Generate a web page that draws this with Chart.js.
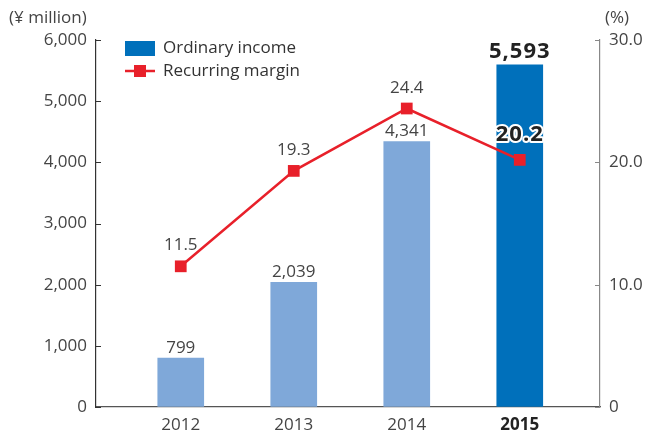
<!DOCTYPE html>
<html>
<head>
<meta charset="utf-8">
<script src="https://cdn.jsdelivr.net/npm/chart.js@4"></script>
<style>
html,body{margin:0;padding:0;background:#fff;}
#wrap{width:645px;height:431px;position:relative;}
</style>
</head>
<body>
<div id="wrap"><canvas id="c" width="645" height="431"></canvas></div>
<script>
const years = ['2012', '2013', '2014', '2015'];
const ordinaryIncome = [799, 2039, 4341, 5593];
const recurringMargin = [11.5, 19.3, 24.4, 20.2];
const incomeTicks = [0, 1000, 2000, 3000, 4000, 5000, 6000];
const marginTicks = [0, 10, 20, 30];
const seriesNames = ['Ordinary income', 'Recurring margin'];
const leftUnit = '(¥ million)';
const rightUnit = '(%)';

const FONT = '"Open Sans", "Noto Sans", sans-serif';
const LIGHT = '#7fa8d9';
const DARK = '#0070bb';
const RED = '#e8202a';
const TXT = '#444';

const xs = years.map((_, i) => i + 1);

const extras = {
  id: 'extras',
  afterDatasetsDraw(chart) {
    const ctx = chart.ctx;
    const y = chart.scales.y, y2 = chart.scales.y2, x = chart.scales.x;
    ctx.save();
    // inward tick marks
    ctx.lineWidth = 1;
    ctx.strokeStyle = '#333';
    incomeTicks.forEach(v => {
      const py = Math.round(y.getPixelForValue(v)) + 0.5;
      ctx.beginPath(); ctx.moveTo(x.left, py); ctx.lineTo(x.left + 5, py); ctx.stroke();
    });
    ctx.strokeStyle = '#888';
    marginTicks.forEach(v => {
      const py = Math.round(y2.getPixelForValue(v)) + 0.5;
      ctx.beginPath(); ctx.moveTo(x.right, py); ctx.lineTo(x.right - 5, py); ctx.stroke();
    });
    // bar value labels
    ctx.textAlign = 'center';
    ctx.textBaseline = 'alphabetic';
    const barMeta = chart.getDatasetMeta(0);
    barMeta.data.forEach((bar, i) => {
      const last = i === ordinaryIncome.length - 1;
      ctx.font = (last ? 'bold 22px ' : '17px ') + FONT;
      ctx.letterSpacing = last ? '1px' : '0px';
      ctx.fillStyle = last ? '#222' : TXT;
      ctx.fillText(ordinaryIncome[i].toLocaleString('en-US'), bar.x, bar.y - (last ? 7 : 5));
    });
    // line value labels
    const lineMeta = chart.getDatasetMeta(1);
    lineMeta.data.forEach((pt, i) => {
      const last = i === recurringMargin.length - 1;
      const s = recurringMargin[i].toFixed(1);
      if (last) {
        ctx.font = 'bold 22px ' + FONT;
        ctx.letterSpacing = '1px';
        ctx.lineWidth = 4;
        ctx.strokeStyle = '#fff';
        ctx.lineJoin = 'round';
        ctx.strokeText(s, pt.x, pt.y - 19);
        ctx.fillStyle = '#222';
        ctx.fillText(s, pt.x, pt.y - 19);
      } else {
        ctx.font = '17px ' + FONT;
        ctx.letterSpacing = '0px';
        ctx.fillStyle = TXT;
        ctx.fillText(s, pt.x, pt.y - 16);
      }
    });
    ctx.letterSpacing = '0px';
    // unit labels
    ctx.font = '17px ' + FONT;
    ctx.fillStyle = TXT;
    ctx.textBaseline = 'middle';
    ctx.textAlign = 'left';
    ctx.fillText(leftUnit, 9, 18);
    ctx.fillText(rightUnit, 605, 18);
    // legend
    const lx = x.left + 29, ly = y.top + 8;
    ctx.fillStyle = DARK;
    ctx.fillRect(lx, ly - 7, 30, 15);
    ctx.strokeStyle = RED; ctx.lineWidth = 2.5;
    ctx.beginPath(); ctx.moveTo(lx, ly + 23); ctx.lineTo(lx + 30, ly + 23); ctx.stroke();
    ctx.fillStyle = RED;
    ctx.fillRect(lx + 9, ly + 17, 12, 12);
    ctx.fillStyle = '#333';
    ctx.fillText(seriesNames[0], lx + 38, ly);
    ctx.fillText(seriesNames[1], lx + 38, ly + 23);
    ctx.restore();
  }
};

new Chart(document.getElementById('c'), {
  data: {
    datasets: [
      {
        type: 'bar',
        label: seriesNames[0],
        data: xs.map((v, i) => ({x: v, y: ordinaryIncome[i]})),
        backgroundColor: ordinaryIncome.map((_, i) => i === ordinaryIncome.length - 1 ? DARK : LIGHT),
        barThickness: 46,
        yAxisID: 'y',
        order: 2
      },
      {
        type: 'line',
        label: seriesNames[1],
        data: xs.map((v, i) => ({x: v, y: recurringMargin[i]})),
        borderColor: RED,
        backgroundColor: RED,
        borderWidth: 2.5,
        pointStyle: 'rect',
        pointRadius: 8.3,
        pointHoverRadius: 8.3,
        pointBorderWidth: 0,
        yAxisID: 'y2',
        order: 1
      }
    ]
  },
  options: {
    responsive: false,
    animation: false,
    events: [],
    layout: {padding: {top: 40, left: 0, right: 0, bottom: 0}},
    plugins: {legend: {display: false}, tooltip: {enabled: false}, title: {display: false}},
    scales: {
      x: {
        type: 'linear',
        offset: false,
        min: 0.25,
        max: 4.71,
        afterBuildTicks: s => { s.ticks = xs.map(v => ({value: v})); },
        afterFit: s => { s.height = 24; },
        grid: {display: true, drawOnChartArea: false, drawTicks: false, offset: false},
        border: {display: true, color: '#555', width: 1.2},
        ticks: {
          padding: 8,
          callback: v => years[v - 1],
          color: c => c.index === years.length - 1 ? '#222' : TXT,
          font: c => ({family: FONT, size: 17, weight: c.index === years.length - 1 ? 'bold' : 'normal'}),
          maxRotation: 0, autoSkip: false
        }
      },
      y: {
        position: 'left',
        min: 0, max: 6000,
        afterBuildTicks: s => { s.ticks = incomeTicks.map(v => ({value: v})); },
        afterFit: s => { s.width = 96; },
        grid: {drawOnChartArea: false, drawTicks: false},
        border: {display: true, color: '#333', width: 1.2},
        ticks: {
          padding: 9,
          color: TXT,
          font: {family: FONT, size: 17},
          callback: v => v.toLocaleString('en-US')
        }
      },
      y2: {
        position: 'right',
        min: 0, max: 30,
        afterBuildTicks: s => { s.ticks = marginTicks.map(v => ({value: v})); },
        afterFit: s => { s.width = 45; },
        grid: {drawOnChartArea: false, drawTicks: false},
        border: {display: true, color: '#888', width: 1.2},
        ticks: {
          padding: 9,
          color: TXT,
          font: {family: FONT, size: 17},
          callback: v => v === 0 ? '0' : v.toFixed(1)
        }
      }
    }
  },
  plugins: [extras]
});
</script>
</body>
</html>
